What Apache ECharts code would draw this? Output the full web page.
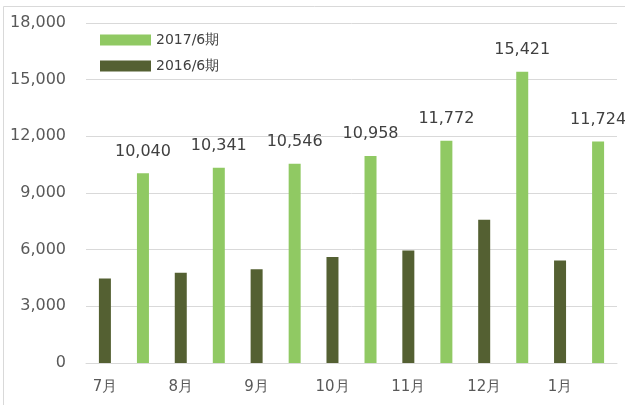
<!DOCTYPE html>
<html>
<head>
<meta charset="utf-8">
<script src="https://cdn.jsdelivr.net/npm/echarts@6/dist/echarts.min.js"></script>
<style>
  html, body { margin: 0; padding: 0; background: #fff; }
  #chart { width: 625px; height: 405px; }
</style>
</head>
<body>
<div id="chart"></div>
<script>
const months = ['7月', '8月', '9月', '10月', '11月', '12月', '1月']
const sales2016 = [4480, 4780, 4960, 5610, 5950, 7590, 5430]
const sales2017 = [10040, 10341, 10546, 10958, 11772, 15421, 11724]

const chart = echarts.init(document.getElementById('chart'))

const option = {
  backgroundColor: '#fff',
  animation: false,
  textStyle: { fontFamily: 'DejaVu Sans' },
  graphic: [{
    type: 'rect',
    shape: { x: 3.5, y: 6.5, width: 700, height: 500 },
    style: { fill: 'none', stroke: '#d9d9d9', lineWidth: 1 }
  }],
  grid: { left: 86, right: 8, top: 23, bottom: 42 },
  legend: {
    orient: 'vertical',
    left: 95,
    top: 28,
    icon: 'rect',
    itemWidth: 51,
    itemHeight: 11,
    itemGap: 12,
    data: ['2017/6期', '2016/6期'],
    textStyle: { fontSize: 14, color: '#404040', fontFamily: 'DejaVu Sans' }
  },
  xAxis: {
    type: 'category',
    data: months,
    axisLine: { lineStyle: { color: '#d9d9d9' } },
    axisTick: { show: false },
    axisLabel: {
      color: '#595959',
      fontSize: 15,
      margin: 17,
      padding: [0, 38, 0, 0]
    }
  },
  yAxis: {
    type: 'value',
    min: 0,
    max: 18000,
    interval: 3000,
    axisLine: { show: false },
    axisTick: { show: false },
    splitLine: { lineStyle: { color: '#d9d9d9' } },
    axisLabel: {
      color: '#595959',
      fontSize: 16,
      margin: 20,
      formatter: v => v.toLocaleString('en-US')
    }
  },
  series: [
    {
      name: '2016/6期',
      type: 'bar',
      data: sales2016,
      barWidth: 12,
      barGap: '217%',
      itemStyle: { color: '#546032' }
    },
    {
      name: '2017/6期',
      type: 'bar',
      data: sales2017,
      barWidth: 12,
      itemStyle: { color: '#90c963' },
      label: {
        show: true,
        position: 'top',
        distance: 14,
        fontSize: 16,
        color: '#404040',
        formatter: p => p.value.toLocaleString('en-US')
      }
    }
  ]
}

chart.setOption(option)
</script>
</body>
</html>
